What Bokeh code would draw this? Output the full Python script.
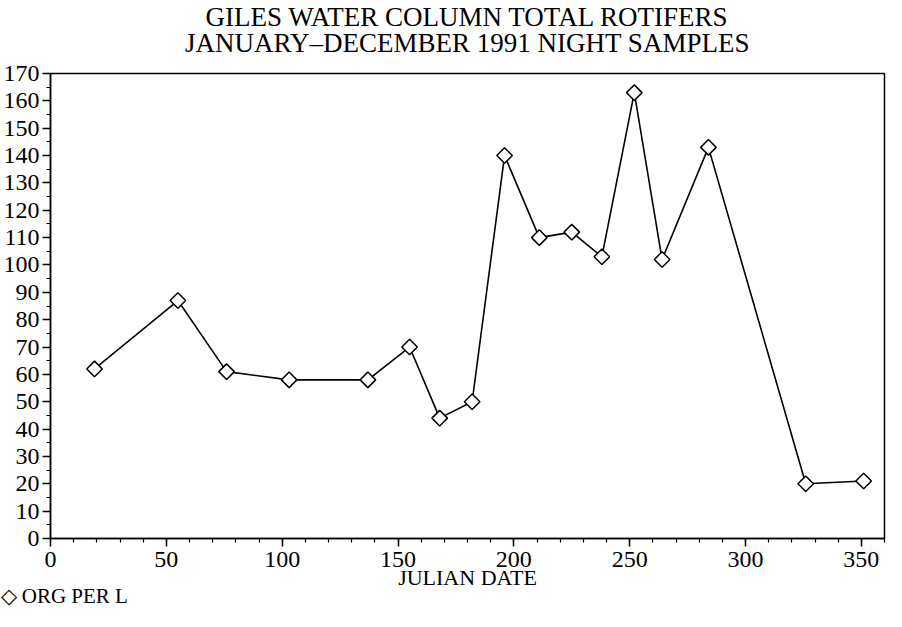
import numpy as np
from bokeh.plotting import figure
from bokeh.models import SingleIntervalTicker, FixedTicker, Range1d, Title, LinearAxis
from bokeh.embed import file_html
from bokeh.resources import INLINE

# ---- data ----
julian_day = [19, 55, 76, 103, 137, 155, 168, 182, 196, 211, 225, 238, 252, 264, 284, 326, 351]
org_per_l = [62, 87, 61, 58, 58, 70, 44, 50, 140, 110, 112, 103, 163, 102, 143, 20, 21]

title_line1 = "GILES WATER COLUMN TOTAL ROTIFERS"
title_line2 = "JANUARY\u2013DECEMBER 1991 NIGHT SAMPLES"
x_label = "JULIAN DATE"
series_name = "ORG PER L"

FONT = "Liberation Serif"

p = figure(width=886, height=611, output_backend="svg", toolbar_location=None,
           x_range=Range1d(0, 360), y_range=Range1d(0, 170),
           min_border_left=50, min_border_right=2, min_border_top=73,
           min_border_bottom=73)
p.xgrid.visible = False
p.ygrid.visible = False
p.outline_line_color = "black"
p.outline_line_width = 1.5
p.background_fill_color = "white"
p.border_fill_color = "white"

line = p.line(julian_day, org_per_l, line_color="black", line_width=1.6)
pts = p.scatter(julian_day, org_per_l, marker="square", angle=np.pi / 4, size=11,
                fill_color="white", line_color="black", line_width=1.5)

# axes
p.xaxis.ticker = SingleIntervalTicker(interval=50, num_minor_ticks=5)
p.yaxis.ticker = SingleIntervalTicker(interval=10, num_minor_ticks=2)
for ax in (p.xaxis[0], p.yaxis[0]):
    ax.axis_line_color = "black"
    ax.axis_line_width = 1.5
    ax.major_tick_line_color = "black"
    ax.minor_tick_line_color = "black"
    ax.major_tick_line_width = 1.5
    ax.minor_tick_line_width = 1.2
    ax.major_tick_in = 0
    ax.minor_tick_in = 0
    ax.major_tick_out = 8
    ax.minor_tick_out = 4
    ax.major_label_text_font = FONT
    ax.major_label_text_font_size = "24px"
    ax.major_label_text_color = "black"
    ax.major_label_standoff = 3
p.xaxis.major_label_standoff = 5

p.xaxis.axis_label = x_label
p.xaxis.axis_label_text_font = FONT
p.xaxis.axis_label_text_font_size = "22px"
p.xaxis.axis_label_text_font_style = "normal"
p.xaxis.axis_label_text_color = "black"
p.xaxis.axis_label_standoff = -5

# second title line: label of a tick-less axis above the frame
title_axis = LinearAxis(ticker=FixedTicker(ticks=[]), axis_line_color=None,
                        major_tick_out=0, major_tick_in=0, minor_tick_out=0,
                        minor_tick_in=0, major_label_standoff=0,
                        axis_label=title_line2, axis_label_standoff=16,
                        axis_label_text_font=FONT, axis_label_text_font_size="27px",
                        axis_label_text_font_style="normal",
                        axis_label_text_color="black")
p.add_layout(title_axis, "above")

# first title line above it
p.add_layout(Title(text=title_line1, align="center", text_font=FONT,
                   text_font_size="27px", text_font_style="normal",
                   text_color="black", standoff=-14), "above")

# legend key below the axis label, at the far left
p.add_layout(Title(text="\u25C7 " + series_name, align="left", offset=-50,
                   text_font=FONT, text_font_size="21px", text_font_style="normal",
                   text_color="black", standoff=-22), "below")

open("out.html", "w").write(file_html(p, INLINE))
